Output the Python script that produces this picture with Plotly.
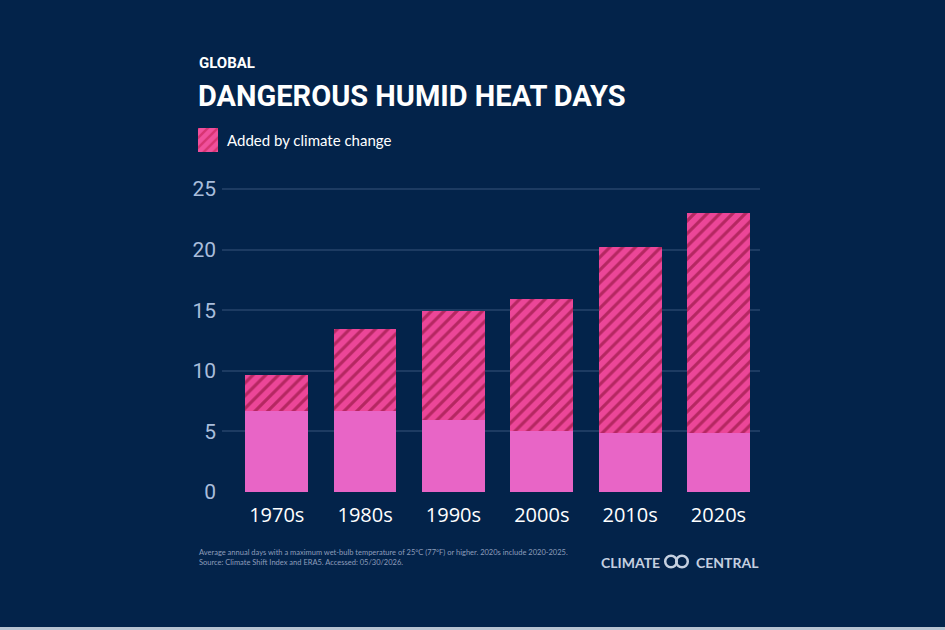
import plotly.graph_objects as go

W, H = 945, 630

decades = ["1970s", "1980s", "1990s", "2000s", "2010s", "2020s"]
baseline_days = [6.7, 6.7, 5.9, 5.0, 4.85, 4.85]
added_by_climate_change = [2.95, 6.75, 9.0, 10.9, 15.4, 18.2]
y_ticks = [0, 5, 10, 15, 20, 25]

BG = "#03234a"
GRID = "#1d3b62"
BASE_PINK = "#e865c6"
HATCH_BG = "#ec4698"
HATCH_FG = "#7d0729"
TICK = "#a9bddb"

COND = "Roboto, sans-serif"

def fx(px):
    return px / W

def fy(py):
    return 1 - py / H

fig = go.Figure()

fig.add_trace(go.Bar(
    x=decades, y=baseline_days, width=0.71,
    marker=dict(color=BASE_PINK, line=dict(width=0)),
    showlegend=False, hoverinfo="skip",
))
fig.add_trace(go.Bar(
    x=decades, y=added_by_climate_change, width=0.71,
    marker=dict(color=HATCH_BG, line=dict(width=0),
                pattern=dict(shape="/", fgcolor=HATCH_FG, bgcolor=HATCH_BG,
                             size=9, solidity=0.35)),
    showlegend=False, hoverinfo="skip",
))

# legend swatch on a tiny axis pair
fig.add_trace(go.Bar(
    x=[0], y=[1], width=1, xaxis="x2", yaxis="y2",
    marker=dict(color="#f0509c", line=dict(width=0),
                pattern=dict(shape="/", fgcolor="#c01848", bgcolor="#f0509c",
                             size=7, solidity=0.35)),
    showlegend=False, hoverinfo="skip",
))

unit = (492 - 189) / 25.0
ymax = 26
fig.update_layout(
    width=W, height=H,
    margin=dict(l=0, r=0, t=0, b=0, autoexpand=False),
    paper_bgcolor=BG, plot_bgcolor=BG,
    barmode="stack",
    xaxis=dict(domain=[fx(222), fx(760)], range=[-0.62, 5.47], automargin=False,
               showgrid=False, zeroline=False, showline=False,
               tickfont=dict(family="Open Sans, sans-serif", size=20, color="white"),
               ticks="", ticklen=0, ticklabelstandoff=9),
    yaxis=dict(domain=[fy(492), fy(492 - ymax * unit)], range=[0, ymax], automargin=False,
               tickvals=y_ticks, ticktext=[str(v) for v in y_ticks],
               showgrid=True, gridcolor=GRID, gridwidth=1.5,
               zeroline=False, showline=False,
               tickfont=dict(family=COND, size=21, color=TICK),
               ticks="", ticklabelstandoff=5),
    xaxis2=dict(domain=[fx(198), fx(218)], range=[-0.5, 0.5], visible=False, anchor="y2", automargin=False),
    yaxis2=dict(domain=[fy(152), fy(128)], range=[0, 1], visible=False, anchor="x2", automargin=False),
    showlegend=False,
)

LOGO = "#c5d0e0"
annos = [
    dict(text="<b>GLOBAL</b>", x=fx(197), y=fy(63), xanchor="left", yanchor="middle",
         font=dict(family=COND, size=15, color="white")),
    dict(text="<b>DANGEROUS HUMID HEAT DAYS</b>", x=fx(196), y=fy(96), xanchor="left", yanchor="middle",
         font=dict(family=COND, size=29, color="white")),
    dict(text="Added by climate change", x=fx(225), y=fy(140), xanchor="left", yanchor="middle",
         font=dict(family="Lato, sans-serif", size=15, color="white")),
    dict(text="Average annual days with a maximum wet-bulb temperature of 25°C (77°F) or higher. 2020s include 2020-2025.<br>"
              "Source: Climate Shift Index and ERA5. Accessed: 05/30/2026.",
         x=fx(197), y=fy(557), xanchor="left", yanchor="middle", align="left",
         font=dict(family="Lato, sans-serif", size=7.5, color="#8d9dba")),
    dict(text="<b>CLIMATE</b>", x=fx(599), y=fy(562), xanchor="left", yanchor="middle",
         font=dict(family="Lato, sans-serif", size=14, color=LOGO)),
    dict(text="<b>CENTRAL</b>", x=fx(761), y=fy(562), xanchor="right", yanchor="middle",
         font=dict(family="Lato, sans-serif", size=14, color=LOGO)),
]
for a in annos:
    a.update(xref="paper", yref="paper", showarrow=False)
fig.update_layout(annotations=annos)

r = 5.8
shapes = []
for cx in (671.0, 682.0):
    shapes.append(dict(type="circle", xref="paper", yref="paper",
                       x0=fx(cx - r), x1=fx(cx + r), y0=fy(561.5 + r), y1=fy(561.5 - r),
                       line=dict(color=LOGO, width=2.5)))
shapes.append(dict(type="rect", xref="paper", yref="paper", x0=0, x1=1, y0=0, y1=fy(627),
                   fillcolor="#b8c3d1", line=dict(width=0)))
fig.update_layout(shapes=shapes)

fig.write_html("out.html")
